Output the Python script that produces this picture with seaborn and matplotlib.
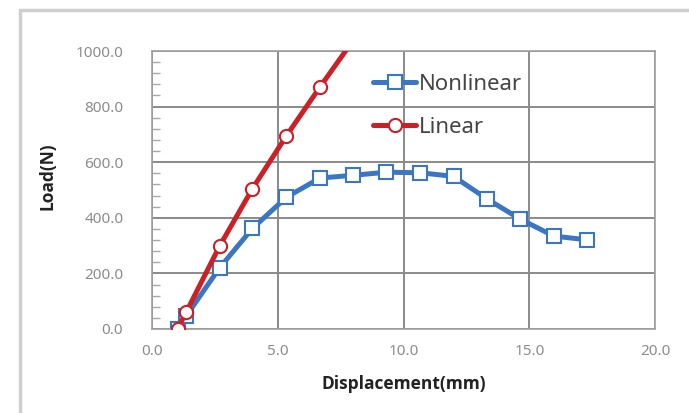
import numpy as np
import pandas as pd
import matplotlib
matplotlib.use("Agg")
import matplotlib.pyplot as plt
import seaborn as sns
from matplotlib.ticker import MultipleLocator, FormatStrFormatter
from matplotlib.patches import Rectangle

# Data
nonlinear_x = [1.0, 1.35, 2.67, 3.98, 5.33, 6.67, 8.0, 9.31, 10.66, 11.98, 13.31, 14.64, 15.98, 17.29]
nonlinear_y = [0, 48, 220, 362, 474, 543, 553, 564, 562, 549, 468, 395, 334, 321]
linear_x = [1.0, 1.35, 2.67, 3.98, 5.33, 6.67, 8.0]
linear_y = [0, 62, 298, 505, 695, 871, 1040]
series_names = ["Nonlinear", "Linear"]

df = pd.concat([
    pd.DataFrame({"x": nonlinear_x, "y": nonlinear_y, "series": series_names[0]}),
    pd.DataFrame({"x": linear_x, "y": linear_y, "series": series_names[1]}),
])

sns.set_theme(style="white")
plt.rcParams['font.family'] = ['Noto Sans', 'DejaVu Sans']
plt.rcParams['ytick.direction'] = 'in'

fig = plt.figure(figsize=(6.89, 4.13), dpi=100)
ax = fig.add_axes([0.2213, 0.2034, 0.7294, 0.6731])

# outer frame
fig.patches.append(Rectangle((20/689, -0.05), 1.2, 1 - 10/413 + 0.05, transform=fig.transFigure,
                             fill=False, edgecolor="#cfcfcf", linewidth=2.5, zorder=0))

colors = {"Nonlinear": "#3B76C4", "Linear": "#CC2027"}
markers = {"Nonlinear": "s", "Linear": "o"}
for name in series_names:
    sub = df[df.series == name]
    sns.lineplot(data=sub, x="x", y="y", ax=ax, color=colors[name], linewidth=3.6,
                 marker=markers[name], markersize=9.5, markerfacecolor="white",
                 markeredgecolor=colors[name], markeredgewidth=1.5, label=name,
                 sort=False, zorder=3 if name == "Linear" else 2)

ax.set_xlim(0, 20)
ax.set_ylim(0, 1000)
ax.xaxis.set_major_locator(MultipleLocator(5))
ax.yaxis.set_major_locator(MultipleLocator(200))
ax.yaxis.set_minor_locator(MultipleLocator(40))
ax.xaxis.set_major_formatter(FormatStrFormatter("%.1f"))
ax.yaxis.set_major_formatter(FormatStrFormatter("%.1f"))
ax.grid(True, which="major", color="#8a8a8a", linewidth=1.4)
ax.set_axisbelow(True)
for s in ax.spines.values():
    s.set_color("#a0a0a0")
    s.set_linewidth(1.2)
ax.tick_params(axis="both", which="major", length=0, labelsize=11, labelcolor="#8c8c8c")
ax.tick_params(axis="x", which="major", pad=11)
ax.tick_params(axis="y", which="minor", left=True, direction="in", length=6, color="#a8a8a8", width=1)
ax.tick_params(axis="y", which="major", pad=21)

lab_font = dict(family=["Open Sans", "DejaVu Sans"], fontweight="bold", fontsize=12.5, color="#222222")
ax.set_xlabel("Displacement(mm)", **lab_font)
ax.set_ylabel("Load(N)", **lab_font)
ax.xaxis.set_label_coords(0.5, -0.165)
ax.yaxis.set_label_coords(-0.19, 0.55)

leg = ax.legend(loc="upper left", bbox_to_anchor=(0.4, 0.99), frameon=False,
                prop={"family": ["Noto Sans", "DejaVu Sans"], "size": 16},
                handlelength=1.9, handletextpad=0.15, labelspacing=1.0,
                labelcolor="#444444")

fig.savefig("out.png", dpi=100)
